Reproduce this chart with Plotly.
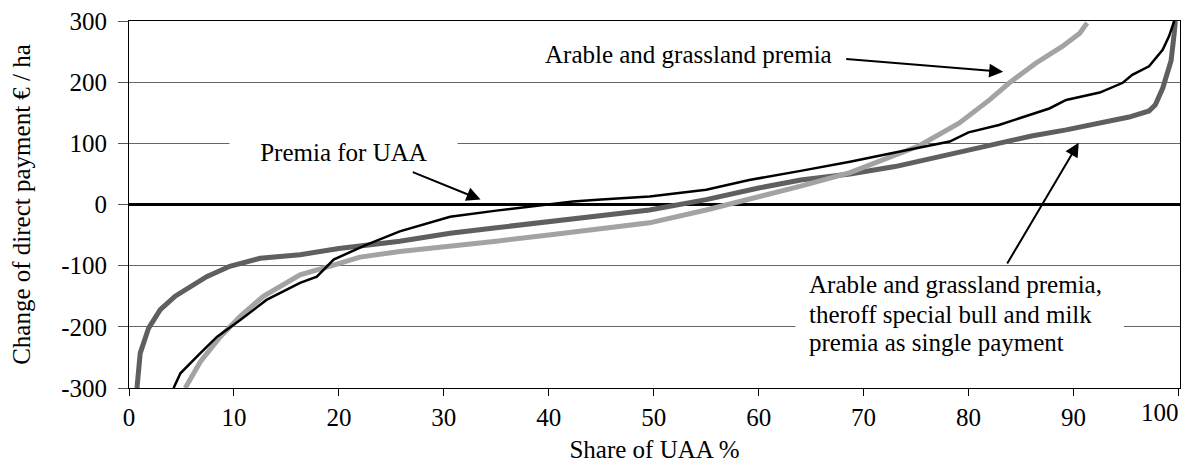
""" Distribution of the change of direct payments per ha over the share of UAA. """

import plotly.graph_objects as go

# Premia for UAA (black)
uaa_x = [4.25, 4.9, 6.8, 8.4, 10.6, 13.1, 16.3, 17.9, 19.5, 22.6, 25.8, 30.6, 35, 39.8, 42.3, 45,
         49.6, 55, 59.1, 64, 68.7, 73, 75.3, 78.2, 80, 82.9, 87.7, 89.3, 92.5, 94.7, 95.6, 97.2,
         98.5, 99.1, 99.6]
uaa_y = [-300, -276, -243, -216, -189, -156, -128, -118, -90, -66, -44, -20, -10, 0, 5, 8,
         13, 24, 40, 55, 70, 85, 93, 103, 118, 130, 157, 171, 183, 199, 212, 226,
         253, 275, 300]

# Arable and grassland premia (light grey)
arable_x = [5.36, 6.8, 8.7, 10.6, 12.8, 16.3, 19.5, 22, 25.8, 30.6, 35, 40, 45, 49.6, 55, 59.1,
            64, 68.7, 73.4, 75.3, 79.1, 82, 83.9, 86.4, 88.9, 90.6, 91.3]
arable_y = [-300, -257, -216, -183, -150, -115, -99, -86, -77, -69, -60, -50, -40, -30, -9, 8,
            30, 52, 84, 96, 133, 171, 199, 231, 258, 280, 297]

# Arable and grassland premia, thereof bull and milk premia as single payment (dark grey)
single_x = [0.76, 1.07, 1.87, 2.98, 4.4, 5.83, 7.4, 9.6, 12.5, 16.3, 20, 25.8, 30.6, 35, 40, 45,
            49.6, 55, 60, 64, 68.7, 73, 76, 78.2, 83, 86, 89.3, 92, 95.3, 97.2, 97.8, 98.5,
            98.8, 99.3, 99.6, 99.7]
single_y = [-300, -243, -202, -172, -150, -134, -118, -101, -88, -82, -72, -60, -47, -38, -28, -18,
            -9, 8, 27, 40, 50, 62, 74, 81, 100, 112, 122, 132, 143, 153, 163, 190,
            205, 235, 280, 300]

y_ticks = [-300, -200, -100, 0, 100, 200, 300]
y_tick_labels = ['-300', '-200', '-100', '0', '100', '200', '300']
x_ticks = [0, 10, 20, 30, 40, 50, 60, 70, 80, 90, 100]
x_tick_labels = ['0', '10', '20', '30', '40', '50', '60', '70', '80', '90', '']

label_lines = ['Arable and grassland premia,', 'theroff special bull and milk',
               'premia as single payment']

FONT = 'Liberation Serif'
TXT = dict(family=FONT, size=25, color='black')

fig = go.Figure()

fig.add_trace(go.Scatter(
    x=single_x, y=single_y, mode='lines',
    line=dict(color='#5f5f5f', width=5),
    name='Arable and grassland premia, theroff special bull and milk premia as single payment',
))
fig.add_trace(go.Scatter(
    x=arable_x, y=arable_y, mode='lines',
    line=dict(color='#a3a3a3', width=5),
    name='Arable and grassland premia',
))
fig.add_trace(go.Scatter(
    x=uaa_x, y=uaa_y, mode='lines',
    line=dict(color='black', width=2.5),
    name='Premia for UAA',
))

# white box behind the three-line label, hides the -200 gridline
fig.add_shape(type='rect', xref='x', yref='y', x0=63.5, x1=94.8, y0=-271, y1=-105,
              fillcolor='white', line_width=0, layer='between')

# Text labels
fig.add_annotation(
    x=20.4, y=86, xref='x', yref='y', text='Premia for UAA', showarrow=False,
    width=225, height=36, bgcolor='white', font=TXT,
)
fig.add_annotation(
    x=53.3, y=245, xref='x', yref='y', text='Arable and grassland premia', showarrow=False,
    font=TXT,
)
for line, yv in zip(label_lines, [-131, -180, -226]):
    fig.add_annotation(
        x=64.6, y=yv, xref='x', yref='y', text=line, showarrow=False,
        xanchor='left', font=TXT,
    )

# last x tick label sits left of its tick, as in the original
fig.add_annotation(
    x=100, y=0, xref='x', yref='paper', text='100', showarrow=False,
    xanchor='right', yanchor='top', xshift=3, yshift=-9, font=TXT,
)

# Arrows
arrows = [
    dict(x=33.5, y=8, ax=26.9, ay=54),
    dict(x=83.3, y=217, ax=68.2, ay=238),
    dict(x=90.5, y=101, ax=83.6, ay=-99),
]
for a in arrows:
    fig.add_annotation(
        x=a['x'], y=a['y'], ax=a['ax'], ay=a['ay'], xref='x', yref='y', axref='x', ayref='y',
        text='', showarrow=True, arrowhead=2, arrowsize=1.4, arrowwidth=2, arrowcolor='black',
    )

fig.update_xaxes(
    range=[0, 100.15], tickvals=x_ticks, ticktext=x_tick_labels, ticks='outside', ticklen=7,
    tickcolor='black', showline=True, mirror=True, linecolor='black', linewidth=1,
    showgrid=False, zeroline=False, automargin=False, ticklabeloverflow='allow',
    title=dict(text='Share of UAA %', font=TXT, standoff=10),
    tickfont=TXT,
)
fig.update_yaxes(
    range=[-300, 300], tickvals=y_ticks, ticktext=y_tick_labels, ticks='outside', ticklen=10,
    tickcolor='#555', showline=True, mirror=True, linecolor='black', linewidth=1,
    showgrid=True, gridcolor='#666666', gridwidth=1,
    zeroline=True, zerolinecolor='black', zerolinewidth=2.5,
    ticklabelstandoff=6, automargin=False, ticklabeloverflow='allow',
    title=dict(text='Change of direct payment € / ha', font=TXT, standoff=28),
    tickfont=TXT,
)

# the page adds an 8 px body margin, so the figure is 8 px smaller than the window
fig.update_layout(
    width=1183, height=464,
    margin=dict(l=121, r=11, t=13, b=84),
    plot_bgcolor='white', paper_bgcolor='white',
    showlegend=False,
    font=TXT,
)

fig.write_html('out.html')
